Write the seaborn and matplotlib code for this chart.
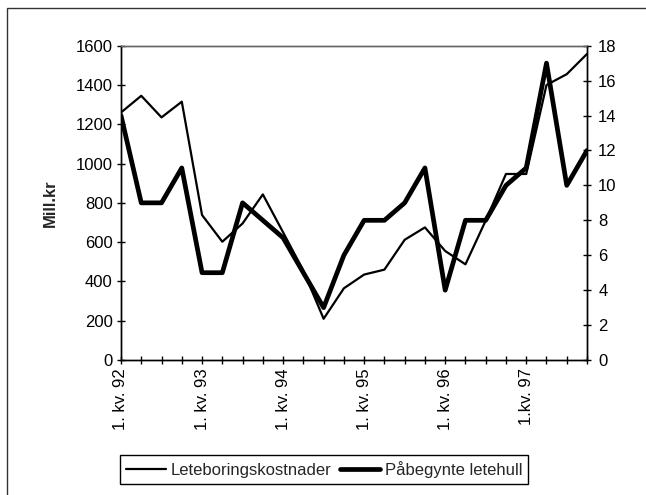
"""Leteboringskostnader og påbegynte letehull, kvartalsvis 1992-1997."""

import matplotlib
matplotlib.use("Agg")
import matplotlib.pyplot as plt
import pandas as pd
import seaborn as sns
from matplotlib.patches import Rectangle

# quarterly data, 1. kv. 92 .. 4. kv. 97
kostnader = [1260, 1345, 1235, 1315, 738, 602, 695, 843, 650, 455, 210, 365,
             435, 460, 612, 675, 555, 487, 710, 947, 947, 1400, 1455, 1558]
letehull = [14, 9, 9, 11, 5, 5, 9, 8, 7, 5, 3, 6,
            8, 8, 9, 11, 4, 8, 8, 10, 11, 17, 10, 12]
kvartal = list(range(len(kostnader)))
x_labels = ["1. kv. 92", "1. kv. 93", "1. kv. 94", "1. kv. 95", "1. kv. 96", "1.kv. 97"]
left_ticks = list(range(0, 1601, 200))
right_ticks = list(range(0, 19, 2))

sns.set_style("ticks")
plt.rcParams["font.family"] = ["Liberation Sans", "DejaVu Sans"]
plt.rcParams["font.size"] = 12

df = pd.DataFrame({"kvartal": kvartal, "kost": kostnader, "hull": letehull})

fig = plt.figure(figsize=(6.46, 4.95), dpi=100)
ax = fig.add_axes([0.1873, 0.2727, 0.7214, 0.635])
ax2 = ax.twinx()

sns.lineplot(data=df, x="kvartal", y="kost", ax=ax, color="black", linewidth=1.6,
             label="Leteboringskostnader", legend=False)
sns.lineplot(data=df, x="kvartal", y="hull", ax=ax2, color="black", linewidth=3.4,
             label="Påbegynte letehull", legend=False)

ax.set_xlim(0, len(kvartal) - 1)
ax.set_ylim(0, 1600)
ax2.set_ylim(0, 18)
ax.set_yticks(left_ticks)
ax2.set_yticks(right_ticks)
ax.set_xticks(kvartal)
ax.set_xticklabels([x_labels[i // 4] if i % 4 == 0 else "" for i in kvartal],
                   rotation=90)
ax.set_xlabel("")
ax.set_ylabel("Mill.kr", fontweight="bold", fontsize=12)
ax.yaxis.set_label_coords(-0.135, 0.5)
ax2.set_ylabel("")

for a in (ax, ax2):
    a.tick_params(direction="inout", length=6, width=1, colors="black",
                  labelsize=12, pad=3)
    for s in a.spines.values():
        s.set_color("black")
        s.set_linewidth(1)
    a.spines["top"].set_visible(True)
    a.spines["right"].set_visible(True)
    a.spines["top"].set_color("#666666")
    a.spines["top"].set_linestyle((0, (1, 1)))
ax2.tick_params(axis="y", pad=5)

# legend box below the chart
h1, l1 = ax.get_legend_handles_labels()
h2, l2 = ax2.get_legend_handles_labels()
fig.legend(h1 + h2, l1 + l2, loc="center", bbox_to_anchor=(0.502, 0.0515),
           ncol=2, frameon=True, fancybox=False, edgecolor="black",
           fontsize=12, handlelength=2.4, handletextpad=0.3, columnspacing=0.5,
           borderpad=0.35, framealpha=1)

# outer frame around the chart
fig.patches.append(Rectangle((7 / 646, -0.1), 1.2, 1.1 - 8 / 495, fill=False,
                             edgecolor="#333333", linewidth=1,
                             transform=fig.transFigure))

plt.savefig("out.png", dpi=100)
